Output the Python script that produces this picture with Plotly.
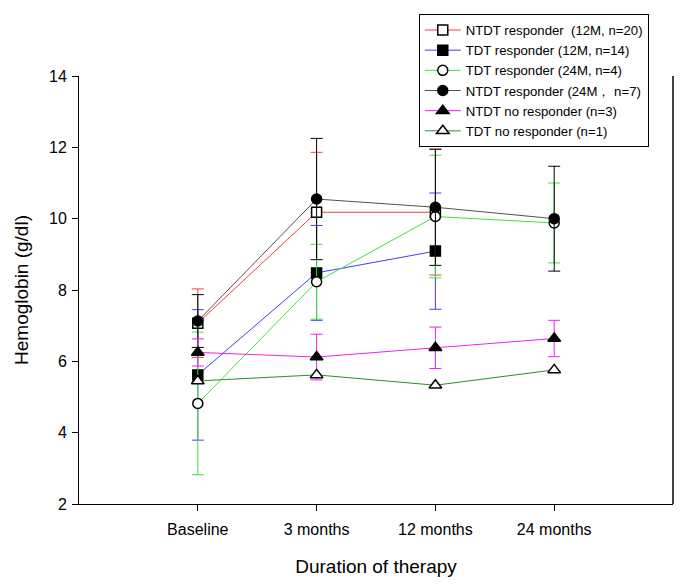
import plotly.graph_objects as go

categories = ["Baseline", "3 months", "12 months", "24 months"]

names = [
    "NTDT responder  (12M, n=20)",
    "TDT responder (12M, n=14)",
    "TDT responder (24M, n=4)",
    "NTDT responder (24M， n=7)",
    "NTDT no responder (n=3)",
    "TDT no responder (n=1)",
]

ntdt12_mean = [7.07, 10.18, 10.18, None]
ntdt12_sd = [0.96, 1.68, 1.76, None]
tdt12_mean = [5.62, 8.48, 9.09, None]
tdt12_sd = [1.83, 1.33, 1.63, None]
tdt24_mean = [4.82, 8.23, 10.06, 9.88]
tdt24_sd = [2.0, 1.05, 1.72, 1.12]
ntdt24_mean = [7.13, 10.55, 10.32, 10.0]
ntdt24_sd = [0.74, 1.70, 1.63, 1.47]
ntdt_nr_mean = [6.25, 6.12, 6.38, 6.64]
ntdt_nr_sd = [0.38, 0.64, 0.58, 0.51]
tdt_nr_mean = [5.45, 5.62, 5.33, 5.76]

means = [ntdt12_mean, tdt12_mean, tdt24_mean, ntdt24_mean, ntdt_nr_mean, tdt_nr_mean]
sds = [ntdt12_sd, tdt12_sd, tdt24_sd, ntdt24_sd, ntdt_nr_sd, None]
line_colors = ["#f04040", "#4040f0", "#40e040", "#505050", "#f020f0", "#2e8b2e"]
err_colors = ["#f04040", "#4040f0", "#40e040", "#000000", "#f020f0", "#2e8b2e"]
symbols = ["square", "square", "circle", "circle", "triangle-up", "triangle-up"]
fills = ["white", "black", "white", "black", "black", "white"]

fig = go.Figure()
for i in range(6):
    n = sum(1 for v in means[i] if v is not None)
    x = categories[:n]
    y = means[i][:n]
    err = None
    if sds[i] is not None:
        err = dict(type="data", array=sds[i][:n], visible=True,
                   color=err_colors[i], thickness=1, width=6)
    fig.add_trace(go.Scatter(
        x=x, y=y, name=names[i], mode="lines+markers",
        line=dict(color=line_colors[i], width=1),
        marker=dict(symbol=symbols[i], size=11 if "triangle" in symbols[i] else 10,
                    color=fills[i], line=dict(color="black", width=1.5)),
        error_y=err,
    ))

fig.update_layout(
    width=686, height=585,
    margin=dict(l=79, r=13, t=76, b=81),
    paper_bgcolor="white", plot_bgcolor="white",
    font=dict(family="Liberation Sans, Arial, sans-serif", color="black"),
    showlegend=True,
    legend=dict(x=0.572, y=1.145, xanchor="left", yanchor="top",
                bgcolor="white", bordercolor="black", borderwidth=1,
                font=dict(size=13.2), tracegroupgap=0, itemwidth=36),
    xaxis=dict(type="category", categoryorder="array", categoryarray=categories,
               range=[-1, 4], showline=True, linecolor="black", linewidth=1,
               ticks="outside", ticklen=6, tickcolor="black",
               showgrid=False, zeroline=False, automargin=False,
               tickfont=dict(size=16), ticklabelstandoff=5,
               title=dict(text="Duration of therapy", font=dict(size=19), standoff=22)),
    yaxis=dict(range=[2, 14], dtick=2, showline=True, linecolor="black", linewidth=1,
               ticks="outside", ticklen=6, tickcolor="black",
               showgrid=False, zeroline=False, automargin=False,
               tickfont=dict(size=16), ticklabelstandoff=2,
               title=dict(text="Hemoglobin (g/dl)", font=dict(size=19), standoff=15)),
    shapes=[dict(type="line", xref="paper", yref="paper", x0=1, x1=1, y0=0, y1=1,
                 line=dict(color="black", width=1.5))],
)

fig.write_html("out.html", config={"displayModeBar": False},
               post_script="document.body.style.margin='0';")
